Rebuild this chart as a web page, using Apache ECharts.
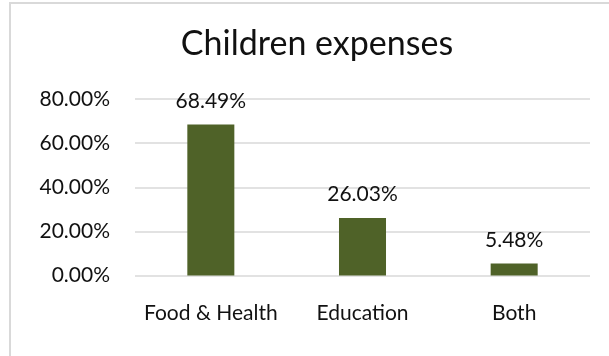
<!DOCTYPE html>
<html>
<head>
<meta charset="utf-8">
<script src="https://cdn.jsdelivr.net/npm/echarts@6/dist/echarts.min.js"></script>
<style>html,body{margin:0;padding:0;background:#fff;}#c{width:609px;height:356px;}</style>
</head>
<body>
<div id="c"></div>
<script>
var titleText = 'Children expenses';
var categories = ['Food & Health', 'Education', 'Both'];
var values = [0.6849, 0.2603, 0.0548];
var yMin = 0, yMax = 0.8, yInterval = 0.2;

var FONT = 'Lato';
var chart = echarts.init(document.getElementById('c'), null, {renderer: 'canvas'});
chart.setOption({
  animation: false,
  backgroundColor: '#ffffff',
  title: {
    text: titleText,
    left: 312, top: 22, textAlign: 'center',
    textStyle: {fontFamily: FONT, fontSize: 34, fontWeight: 'normal', color: '#111'}
  },
  graphic: [{
    type: 'rect', shape: {x: 10, y: 3, width: 700, height: 500},
    style: {fill: 'none', stroke: '#d9d9d9', lineWidth: 2}, silent: true
  }],
  grid: {left: 135, right: 19, top: 99, bottom: 80.5, containLabel: false},
  xAxis: {
    type: 'category', data: categories,
    axisLine: {show: false}, axisTick: {show: false},
    axisLabel: {fontFamily: FONT, fontSize: 21, color: '#111', margin: 27, interval: 0}
  },
  yAxis: {
    type: 'value', min: yMin, max: yMax, interval: yInterval,
    axisLine: {show: false}, axisTick: {show: false},
    splitLine: {lineStyle: {color: '#d9d9d9', width: 1.5}},
    axisLabel: {fontFamily: FONT, fontSize: 21, color: '#111', margin: 25,
      formatter: function (v) { return (v * 100).toFixed(2) + '%'; }}
  },
  series: [{
    type: 'bar', data: values, barWidth: '31%',
    itemStyle: {color: '#4F6228'},
    label: {show: true, position: 'top', distance: 13, fontFamily: FONT, fontSize: 21, color: '#111',
      formatter: function (p) { return (p.value * 100).toFixed(2) + '%'; }}
  }]
});
</script>
</body>
</html>
